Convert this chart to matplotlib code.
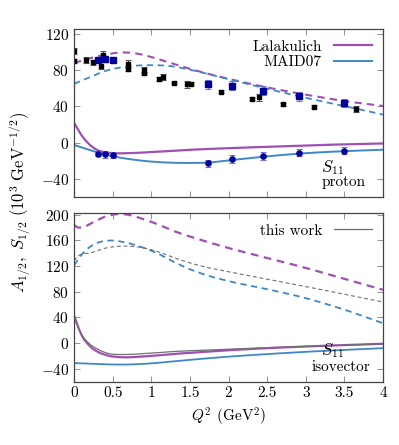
import matplotlib
matplotlib.use("Agg")
import matplotlib.pyplot as plt
import numpy as np

plt.rcParams['font.family'] = 'serif'
plt.rcParams['font.serif'] = ['cmr10', 'DejaVu Serif']
plt.rcParams['mathtext.fontset'] = 'cm'
plt.rcParams['axes.formatter.use_mathtext'] = True
plt.rcParams['font.size'] = 11

purple = '#a04fb4'
blue = '#3f88c8'
navy = '#00009a'
grey = '#707070'

# ---- proton: model curves ----
q_lal_a = [0, 0.2, 0.4, 0.6, 0.8, 1.0, 1.25, 1.5, 2.0, 2.5, 3.0, 3.5, 4.0]
lal_a_p = [88, 93, 97, 99.5, 98.5, 94.5, 88, 81.5, 70.5, 61, 53, 46, 40.5]
q_maid_a = [0, 0.2, 0.4, 0.6, 0.8, 1.0, 1.25, 1.5, 2.0, 2.5, 3.0, 3.5, 4.0]
maid_a_p = [65, 72, 79, 83, 85, 85.5, 84.5, 80.5, 70, 59.5, 49.5, 40.5, 31]
q_lal_s = [0, 0.1, 0.2, 0.3, 0.4, 0.5, 0.7, 1.0, 1.5, 2.0, 2.5, 3.0, 3.5, 4.0]
lal_s_p = [22, 8, -2, -8, -10.5, -11.5, -11.5, -10.3, -7.8, -6, -4.5, -3, -1.8, -0.8]
q_maid_s = [0, 0.2, 0.4, 0.6, 0.8, 1.0, 1.25, 1.5, 1.75, 2.0, 2.5, 3.0, 3.5, 4.0]
maid_s_p = [-2.5, -8, -13, -16.5, -19, -20.8, -22, -22.3, -21.8, -19.5, -15, -11.5, -9.3, -7.7]

# ---- proton: data ----
q_blk = [0, 0, 0.16, 0.25, 0.35, 0.37, 0.70, 0.70, 0.90, 0.90, 1.10, 1.15, 1.30,
         1.46, 1.51, 1.90, 2.30, 2.40, 2.70, 3.10, 3.65]
a_blk = [101.3, 90.3, 91.4, 88.5, 85, 97, 86.7, 81.5, 80, 76.4, 70, 72.4, 66,
         64.3, 65, 56.4, 48.5, 50, 42.3, 39.6, 37.1]
e_blk = [3, 2, 3, 3, 4, 4, 4, 2, 3, 2, 2, 3, 1.5, 4, 1.5, 1.5, 1.5, 4, 1.5, 1.5, 3]

q_nav = [0.31, 0.40, 0.50, 1.73, 2.05, 2.44, 2.91, 3.49]
a_nav = [90.7, 91.8, 91, 64.6, 62.6, 57.5, 51.4, 43.4]
ea_nav = [2.5, 2.5, 2.5, 5, 5, 5, 5, 4.5]
s_nav = [-12.1, -12.8, -13.5, -22.7, -18.3, -14.6, -11, -8.8]
es_nav = [3, 4, 3.5, 4, 4.5, 4, 4, 4]

# ---- isovector curves ----
q_lal_ai = [0, 0.04, 0.1, 0.26, 0.43, 0.65, 0.86, 1.08, 1.29, 1.63, 2.0, 2.5, 3.0, 3.5, 4.0]
lal_a_i = [184, 180.5, 180, 189, 198, 200.6, 194.5, 185, 174.5, 161, 148, 132.5, 117, 100, 83]
q_maid_ai = [0, 0.13, 0.26, 0.43, 0.65, 0.86, 1.08, 1.29, 1.5, 1.75, 2.0, 2.5, 3.0, 3.5, 4.0]
maid_a_i = [121, 142, 153.7, 159.4, 157, 150, 139.7, 126.5, 115, 104.5, 96.5, 84, 70, 52, 31]
q_tw_a = [0, 0.04, 0.22, 0.43, 0.65, 0.86, 1.08, 1.29, 1.63, 2.0, 2.5, 3.0, 3.5, 4.0]
tw_a_i = [128, 134, 140.6, 148.4, 151, 149, 142.5, 133, 120.5, 111, 99.5, 88, 76, 64]

q_s_i = [0, 0.1, 0.2, 0.3, 0.43, 0.65, 0.86, 1.29, 1.63, 2.0, 2.5, 3.0, 3.5, 4.0]
lal_s_i = [43, 12, -4, -13, -19, -22, -21, -16.8, -14, -11, -7.8, -5.2, -3, -1]
tw_s_i = [40, 13, -1, -9, -15.6, -17.7, -16.6, -13, -11.2, -9.3, -7, -5, -3, -1]
q_maid_si = [0, 0.3, 0.65, 1.0, 1.29, 1.63, 2.0, 2.5, 3.0, 3.5, 4.0]
maid_s_i = [-31, -32.5, -33.3, -31.5, -28.3, -24.6, -21, -17, -13.5, -10.5, -7.8]


def smooth(x, y, n=300):
    # cubic Hermite through the read points
    x = np.asarray(x, float)
    y = np.asarray(y, float)
    xs = np.linspace(x[0], x[-1], n)
    m = np.gradient(y, x)
    k = np.clip(np.searchsorted(x, xs, side='right') - 1, 0, len(x) - 2)
    h = x[k + 1] - x[k]
    t = (xs - x[k]) / h
    h00 = 2 * t**3 - 3 * t**2 + 1
    h10 = t**3 - 2 * t**2 + t
    h01 = -2 * t**3 + 3 * t**2
    h11 = t**3 - t**2
    ys = h00 * y[k] + h10 * h * m[k] + h01 * y[k + 1] + h11 * h * m[k + 1]
    return xs, ys


fig = plt.figure(figsize=(3.99, 4.45), dpi=100)
ax1 = fig.add_axes([0.1855, 0.557, 0.7745, 0.377])
ax2 = fig.add_axes([0.1855, 0.1422, 0.7745, 0.3785])

dash = (0, (3.5, 2.5))
ebar = dict(elinewidth=0.8, capsize=2.5, capthick=0.8)

# top panel: proton
ax1.plot(*smooth(q_lal_a, lal_a_p), color=purple, lw=1.5, ls=dash)
ax1.plot(*smooth(q_maid_a, maid_a_p), color=blue, lw=1.3, ls=dash)
ax1.plot(*smooth(q_lal_s, lal_s_p), color=purple, lw=1.6, label='Lalakulich')
ax1.plot(*smooth(q_maid_s, maid_s_p), color=blue, lw=1.4, label='MAID07')
ax1.errorbar(q_blk, a_blk, yerr=e_blk, fmt='s', color='black', ms=3.5,
             ecolor='#555555', **ebar)
ax1.errorbar(q_nav, a_nav, yerr=ea_nav, fmt='s', color=navy, ms=3.8,
             ecolor='#7a70d0', **ebar)
ax1.errorbar(q_nav, s_nav, yerr=es_nav, fmt='o', color=navy, ms=3.8,
             ecolor='#7a70d0', **ebar)
ax1.text(3.2, -27, '$S_{11}$', fontsize=12, va='center', ha='left')
ax1.text(3.2, -43, 'proton', fontsize=11, va='center', ha='left')
ax1.set_ylim(-60, 125)
ax1.set_yticks([-40, 0, 40, 80, 120])
ax1.tick_params(labelbottom=False)
ax1.legend(loc='upper right', markerfirst=False, frameon=False, handlelength=2.5,
           borderaxespad=0.3, labelspacing=0.1, fontsize=11)

# bottom panel: isovector
ax2.plot(*smooth(q_lal_ai, lal_a_i), color=purple, lw=1.6, ls=dash)
ax2.plot(*smooth(q_maid_ai, maid_a_i), color=blue, lw=1.3, ls=dash)
ax2.plot(*smooth(q_tw_a, tw_a_i), color=grey, lw=0.8, ls=dash)
ax2.plot(*smooth(q_s_i, lal_s_i), color=purple, lw=1.6)
ax2.plot(*smooth(q_s_i, tw_s_i), color=grey, lw=0.9, label='this work')
ax2.plot(*smooth(q_maid_si, maid_s_i), color=blue, lw=1.3)
ax2.text(3.2, -12, '$S_{11}$', fontsize=12, va='center', ha='left')
ax2.text(3.46, -37, 'isovector', fontsize=11, va='center', ha='center')
ax2.set_ylim(-60, 202)
ax2.set_yticks([-40, 0, 40, 80, 120, 160, 200])
ax2.set_xlabel('$Q^2$ (GeV$^2$)', fontsize=11, labelpad=4)
ax2.legend(loc='upper right', markerfirst=False, frameon=False, handlelength=2.5,
           borderaxespad=0.3, fontsize=11)

for ax in (ax1, ax2):
    ax.set_xlim(0, 4)
    ax.set_xticks([0, 0.5, 1, 1.5, 2, 2.5, 3, 3.5, 4])
    ax.tick_params(direction='in', top=True, right=True, length=4, width=0.8,
                   color='#999999', labelsize=11)
    for s in ax.spines.values():
        s.set_color('#444444')
        s.set_linewidth(0.9)
ax2.set_xticklabels(['0', '0.5', '1', '1.5', '2', '2.5', '3', '3.5', '4'])

fig.text(0.05, 0.545, r'$A_{1/2},\ S_{1/2}\ (10^3\ \mathrm{GeV}^{-1/2})$',
         rotation=90, ha='center', va='center', fontsize=12)

fig.savefig('out.png', dpi=100)
